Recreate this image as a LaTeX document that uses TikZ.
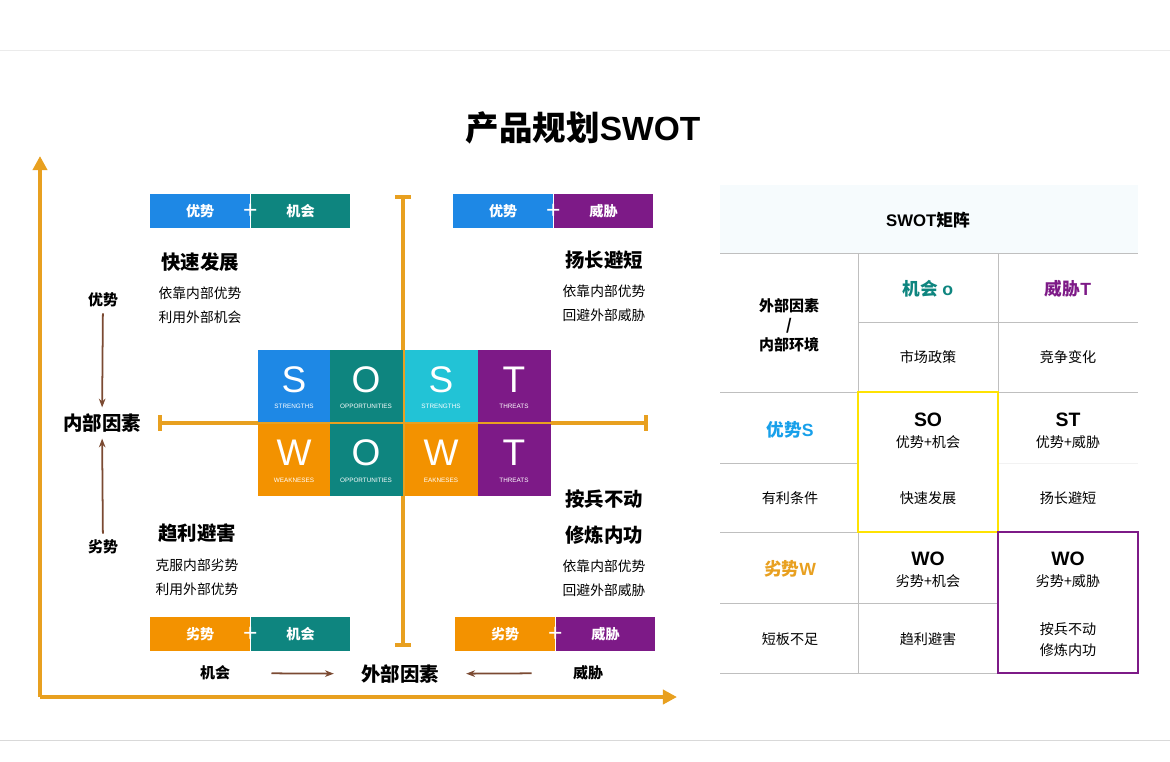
\documentclass[tikz,border=0pt]{standalone}
\usepackage{fontspec}
\setmainfont{Noto Sans CJK SC}
\newfontfamily\latinfont{Liberation Sans}
\usetikzlibrary{arrows.meta,positioning}
\definecolor{axisorange}{HTML}{E8A020}
\definecolor{sblue}{HTML}{1E88E5}
\definecolor{oteal}{HTML}{0E857F}
\definecolor{scyan}{HTML}{22C3D6}
\definecolor{tpurple}{HTML}{7D1A87}
\definecolor{worange}{HTML}{F39200}
\definecolor{arrbrown}{HTML}{7B4A32}
\definecolor{headbg}{HTML}{F6FBFD}

\tikzset{
  px/.style={x=0.567pt,y=-0.567pt},
  letter/.style={text=white,font=\latinfont\fontsize{21}{21}\selectfont,inner sep=0pt},
  tiny/.style={text=white,font=\latinfont\fontsize{3.6}{4}\selectfont,inner sep=0pt},
  pairbox/.style={minimum width=56.5pt,minimum height=19.3pt,inner sep=0pt,text=white,font=\fontsize{8}{9}\bfseries\selectfont},
  head/.style={font=\fontsize{11}{20}\bfseries\selectfont,align=center},
  body/.style={font=\fontsize{7.8}{13.5}\selectfont,align=center},
  side/.style={font=\fontsize{8.5}{10}\bfseries\selectfont},
  cell/.style={font=\fontsize{8}{12}\selectfont,align=center},
  big/.style={font=\fontsize{10}{11}\bfseries\selectfont,align=center},
  grid/.style={draw=black!25,line width=0.5pt},
  axis/.style={draw=axisorange,line width=2pt},
  brown/.style={draw=arrbrown,line width=1pt,-{Stealth[length=5pt]}}
}

\begin{document}
\begin{tikzpicture}[px]
  \useasboundingbox (0,0) rectangle (1170,761);
  \draw[black!8] (0,50) -- (1170,50);
  \draw[black!15] (0,740) -- (1170,740);

  % title
  \node (title) at (583,128) {\fontsize{19}{20}\bfseries\selectfont 产品规划{\latinfont SWOT}};

  % axes
  \coordinate (o) at (40,697);
  \coordinate (ytop) at (40,156);
  \coordinate (xend) at (677,697);
  \draw[axis,-{Triangle[length=8pt,width=8pt]}] (o) -- (ytop);
  \draw[axis,-{Triangle[length=8pt,width=8pt]}] (o) -- (xend);

  % cross
  \coordinate (vt) at (403,197); \coordinate (vb) at (403,645);
  \coordinate (hl) at (160,423); \coordinate (hr) at (646,423);
  \draw[axis] (vt) -- (vb) (hl) -- (hr);
  \draw[axis] (395,197) -- (411,197) (395,645) -- (411,645)
              (160,415) -- (160,431) (646,415) -- (646,431);

  % SWOT blocks
  \foreach \x/\col/\l/\t [count=\i] in {258/sblue/S/STRENGTHS,330/oteal/O/OPPORTUNITIES,405/scyan/S/STRENGTHS,478/tpurple/T/THREATS}{
    \fill[\col] (\x,350) rectangle ++(72.5,72);
    \node[letter] (top\i) at (\x+36,380) {\l};
    \node[tiny] at (\x+36,406) {\t};
  }
  \foreach \x/\col/\l/\t [count=\i] in {258/worange/W/WEAKNESES,330/oteal/O/OPPORTUNITIES,405/worange/W/EAKNESES,478/tpurple/T/THREATS}{
    \fill[\col] (\x,424) rectangle ++(72.5,72);
    \node[letter] (bot\i) at (\x+36,453) {\l};
    \node[tiny] at (\x+36,480) {\t};
  }

  % pair boxes
  \node[pairbox,fill=sblue,anchor=west] (so1) at (150,211) {优势};
  \node[pairbox,fill=oteal,right=0pt of so1] (so2) {机会};
  \node[pairbox,fill=sblue,anchor=west] (st1) at (453,211) {优势};
  \node[pairbox,fill=tpurple,right=0pt of st1] (st2) {威胁};
  \node[pairbox,fill=worange,anchor=west] (wo1) at (150,634) {劣势};
  \node[pairbox,fill=oteal,right=0pt of wo1] (wo2) {机会};
  \node[pairbox,fill=worange,anchor=west] (wt1) at (455,634) {劣势};
  \node[pairbox,fill=tpurple,right=0pt of wt1] (wt2) {威胁};
  \foreach \n in {so1,st1,wo1,wt1}
    \node[text=white,font=\latinfont\fontsize{14}{14}\selectfont] at (\n.east) {+};

  % quadrant texts
  \node[head] (soh) at (200,262) {快速发展};
  \node[body] at (200,305) {依靠内部优势\\利用外部机会};
  \node[head] (sth) at (604,260) {扬长避短};
  \node[body] at (604,303) {依靠内部优势\\回避外部威胁};
  \node[head] (woh) at (197,533) {趋利避害};
  \node[body] at (197,577) {克服内部劣势\\利用外部优势};
  \node[head] (wth) at (604,517) {按兵不动\\修炼内功};
  \node[body] at (604,578) {依靠内部优势\\回避外部威胁};

  % side labels
  \node[side] (adv) at (103,300) {优势};
  \node[font=\fontsize{11}{12}\bfseries\selectfont] (inner) at (102,423) {内部因素};
  \node[side] (dis) at (103,547) {劣势};
  \draw[brown] (adv) -- (inner);
  \draw[brown] (dis) -- (inner);
  \node[side] (opp) at (215,673) {机会};
  \node[font=\fontsize{11}{12}\bfseries\selectfont] (outer) at (400,674) {外部因素};
  \node[side] (thr) at (588,673) {威胁};
  \draw[brown,shorten <=20pt,shorten >=12pt] (opp) -- (outer);
  \draw[brown,shorten <=20pt,shorten >=12pt] (thr) -- (outer);

  % matrix table
  \fill[headbg] (720,185) rectangle (1138,253);
  \node[font=\fontsize{9.5}{10}\bfseries\selectfont] (mt) at (928,220) {{\latinfont SWOT}矩阵};
  \draw[grid] (720,253) -- (1138,253) (720,392) -- (1138,392)
              (720,532) -- (1138,532) (720,673) -- (1138,673)
              (858,322) -- (1138,322) (720,463) -- (858,463)
              (720,603) -- (998,603) (858,253) -- (858,673) (998,253) -- (998,673);
  \draw[black!5] (998,463) -- (1138,463);
  \draw[yellow!85!orange,line width=1pt] (858,392) rectangle (998,532);
  \draw[tpurple,line width=1.5pt] (998,532) rectangle (1138,673);

  \node[cell,font=\fontsize{8.5}{11}\bfseries\selectfont] (corner) at (789,325) {外部因素\\/\\内部环境};
  \node[big,text=oteal] (mo) at (928,289) {机会 {\latinfont o}};
  \node[big,text=tpurple] (mtr) at (1068,289) {威胁{\latinfont T}};
  \node[cell] at (928,357) {市场政策};
  \node[cell] at (1068,357) {竞争变化};
  \node[big,text=sblue!80!cyan] (ms) at (790,430) {优势{\latinfont S}};
  \node[cell] (mso) at (928,431) {{\latinfont\fontsize{11}{11}\bfseries\selectfont SO}\\优势+机会};
  \node[cell] (mst) at (1068,431) {{\latinfont\fontsize{11}{11}\bfseries\selectfont ST}\\优势+威胁};
  \node[cell] at (790,498) {有利条件};
  \node[cell] at (928,498) {快速发展};
  \node[cell] at (1068,498) {扬长避短};
  \node[big,text=axisorange] (mw) at (790,569) {劣势{\latinfont W}};
  \node[cell] (mwo) at (928,570) {{\latinfont\fontsize{11}{11}\bfseries\selectfont WO}\\劣势+机会};
  \node[cell] (mwt) at (1068,570) {{\latinfont\fontsize{11}{11}\bfseries\selectfont WO}\\劣势+威胁};
  \node[cell] at (790,639) {短板不足};
  \node[cell] at (928,639) {趋利避害};
  \node[cell] at (1068,640) {按兵不动\\修炼内功};
\end{tikzpicture}
\end{document}
